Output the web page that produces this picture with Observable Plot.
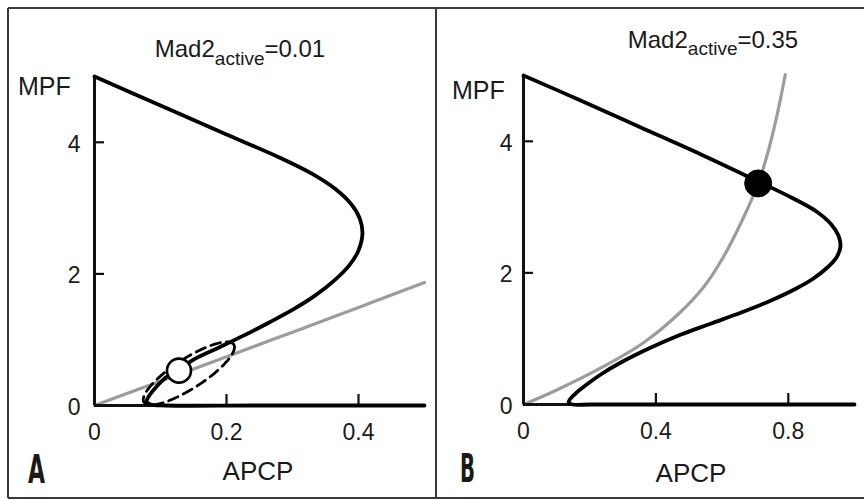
<!DOCTYPE html>
<html>
<head>
<meta charset="utf-8">
<script src="https://cdn.jsdelivr.net/npm/d3@7"></script>
<script src="https://cdn.jsdelivr.net/npm/@observablehq/plot@0.6"></script>
<style>
  html, body { margin: 0; padding: 0; background: #fff; }
  #root { position: relative; width: 864px; height: 500px; overflow: hidden; background: #fff; }
  .panel { position: absolute; top: 0; }
  #deco { position: absolute; left: 0; top: 0; pointer-events: none; }
  #deco text { font-family: "Liberation Sans", Arial, Helvetica, sans-serif; fill: #1a1a1a; }
</style>
</head>
<body>
<div id="root">
  <div id="pA" class="panel" style="left:0px"></div>
  <div id="pB" class="panel" style="left:432px"></div>
  <svg id="deco" width="864" height="500" viewBox="0 0 864 500">
    <g stroke="#3a3a3a" stroke-width="2" fill="none">
      <line x1="8" y1="8" x2="864" y2="8"/>
      <line x1="8" y1="8" x2="8" y2="498"/>
      <line x1="8" y1="498" x2="864" y2="498"/>
      <line x1="436" y1="8" x2="436" y2="498"/>
    </g>
    <text x="240" y="57" text-anchor="middle" font-size="24">Mad2<tspan font-size="19" dy="8">active</tspan><tspan dy="-8">=0.01</tspan></text>
    <text x="713" y="48" text-anchor="middle" font-size="24">Mad2<tspan font-size="19" dy="7">active</tspan><tspan dy="-7">=0.35</tspan></text>
    <text x="18" y="95" font-size="25">MPF</text>
    <text x="452" y="99" font-size="25">MPF</text>
    <text x="258" y="480" text-anchor="middle" font-size="26">APCP</text>
    <text x="691" y="482" text-anchor="middle" font-size="26">APCP</text>
    <text x="28" y="483" font-size="39" font-weight="bold" textLength="17" lengthAdjust="spacingAndGlyphs" style="font-family:'DejaVu Sans Condensed','DejaVu Sans',sans-serif">A</text>
    <text x="460" y="482" font-size="39" font-weight="bold" textLength="15" lengthAdjust="spacingAndGlyphs" style="font-family:'DejaVu Sans Condensed','DejaVu Sans',sans-serif">B</text>
  </svg>
</div>
<script>
// ---- Data ----
// Panel A (Mad2_active = 0.01): black = MPF nullcline (S-shaped), grey = APCP nullcline
const blackA_apcp = [0, 0.1, 0.2, 0.28, 0.33, 0.365, 0.389, 0.402, 0.406, 0.400, 0.386, 0.3635, 0.3346, 0.3011, 0.2646, 0.2266, 0.1886, 0.1506, 0.128, 0.108, 0.0928, 0.0821, 0.079, 0.085, 0.108, 0.25, 0.5];
const blackA_mpf  = [5.0, 4.56, 4.12, 3.77, 3.52, 3.29, 3.06, 2.84, 2.616, 2.357, 2.129, 1.901, 1.673, 1.460, 1.262, 1.065, 0.882, 0.700, 0.545, 0.426, 0.274, 0.137, 0.06, 0.015, 0.0, 0.0, 0.0];
const greyA_apcp  = [0, 0.1, 0.2, 0.3, 0.4, 0.5];
const greyA_mpf   = [0, 0.37, 0.74, 1.115, 1.49, 1.87];
const steadyA     = [0.128, 0.53];         // open circle (unstable steady state)
const ellipseCenterA = [0.143, 0.487];     // dashed ellipse around steady state
const ellipseMajorA  = [0.068, 0.44];
const ellipseMinorA  = [0.0125, -0.19];

// Panel B (Mad2_active = 0.35)
const blackB_apcp = [0, 0.1727, 0.3545, 0.5364, 0.709, 0.809, 0.885, 0.930, 0.9515, 0.9576, 0.9455, 0.918, 0.876, 0.824, 0.748, 0.658, 0.567, 0.476, 0.385, 0.294, 0.2333, 0.1909, 0.1606, 0.1424, 0.1364, 0.1485, 0.203, 0.536, 1.0];
const blackB_mpf  = [5.0, 4.62, 4.21, 3.80, 3.39, 3.146, 2.933, 2.736, 2.568, 2.401, 2.234, 2.082, 1.915, 1.763, 1.581, 1.398, 1.231, 1.064, 0.866, 0.638, 0.456, 0.304, 0.182, 0.091, 0.030, 0.0, 0.0, 0.0, 0.0];
const greyB_apcp  = [0, 0.0909, 0.2424, 0.3636, 0.4697, 0.5455, 0.603, 0.6576, 0.709, 0.7424, 0.7697, 0.7909];
const greyB_mpf   = [0, 0.198, 0.578, 0.942, 1.383, 1.793, 2.234, 2.766, 3.359, 3.906, 4.483, 5.015];
const steadyB     = [0.709, 3.36];         // filled circle (stable steady state)

// Axis ticks
const xTicksA = [0, 0.2, 0.4];
const xTickLabelsA = ["0", "0.2", "0.4"];
const xTicksB = [0, 0.4, 0.8];
const xTickLabelsB = ["0", "0.4", "0.8"];
const yTicks = [0, 2, 4];
const yTickLabels = ["0", "2", "4"];

// ---- Build tables ----
const zip = (xs, ys) => xs.map((x, i) => ({x, y: ys[i]}));
const blackA = zip(blackA_apcp, blackA_mpf);
const greyA = zip(greyA_apcp, greyA_mpf);
const blackB = zip(blackB_apcp, blackB_mpf);
const greyB = zip(greyB_apcp, greyB_mpf);
const ellipseA = d3.range(0, 361, 5).map(deg => {
  const t = deg * Math.PI / 180;
  return {
    x: ellipseCenterA[0] + ellipseMajorA[0] * Math.cos(t) + ellipseMinorA[0] * Math.sin(t),
    y: ellipseCenterA[1] + ellipseMajorA[1] * Math.cos(t) + ellipseMinorA[1] * Math.sin(t)
  };
});

const FONT = "'Liberation Sans', Arial, Helvetica, sans-serif";
const INK = "#111";

function panel({xMax, xTicks, xTickLabels, black, grey, marginLeft, marginRight, marginTop, marginBottom, yLabelDx, extra}) {
  return Plot.plot({
    width: 432,
    height: 500,
    marginLeft, marginRight, marginTop, marginBottom,
    x: {domain: [0, xMax], axis: null},
    y: {domain: [0, 5], axis: null},
    style: {background: "transparent", overflow: "visible", fontFamily: FONT},
    marks: [
      // grey nullcline
      Plot.line(grey, {x: "x", y: "y", curve: "catmull-rom", stroke: "#9c9c9c", strokeWidth: 3.2}),
      // axes lines
      Plot.ruleX([0], {stroke: INK, strokeWidth: 3}),
      Plot.ruleY([0], {stroke: INK, strokeWidth: 3}),
      // inward tick marks
      Plot.ruleX(xTicks.filter(d => d > 0), {x: d => d, y1: 0, y2: 0, insetTop: -11, stroke: INK, strokeWidth: 2.2}),
      Plot.ruleY(yTicks.filter(d => d > 0), {y: d => d, x1: 0, x2: 0, insetRight: -10, stroke: INK, strokeWidth: 2.2}),
      // tick labels
      Plot.text(xTicks, {x: d => d, y: 0, text: (d, i) => xTickLabels[i], dy: 27, fontSize: 23, fill: "#1a1a1a"}),
      Plot.text(yTicks, {x: 0, y: d => d, text: (d, i) => yTickLabels[i], dx: yLabelDx, dy: 2, textAnchor: "end", fontSize: 23, fill: "#1a1a1a"}),
      // black nullcline
      Plot.line(black, {x: "x", y: "y", curve: "catmull-rom", stroke: "#000", strokeWidth: 3.8, strokeLinejoin: "round"}),
      ...extra
    ]
  });
}

const plotA = panel({
  xMax: 0.5, xTicks: xTicksA, xTickLabels: xTickLabelsA, black: blackA, grey: greyA,
  marginLeft: 94, marginRight: 8, marginTop: 76, marginBottom: 95, yLabelDx: -14,
  extra: [
    Plot.line(ellipseA, {x: "x", y: "y", curve: "linear-closed", stroke: "#000", strokeWidth: 2.8, strokeDasharray: "10,6"}),
    Plot.dot([steadyA], {x: d => d[0], y: d => d[1], r: 12, fill: "#fff", stroke: "#000", strokeWidth: 2.6})
  ]
});
document.getElementById("pA").appendChild(plotA);

const plotB = panel({
  xMax: 1.0, xTicks: xTicksB, xTickLabels: xTickLabelsB, black: blackB, grey: greyB,
  marginLeft: 91, marginRight: 10, marginTop: 75, marginBottom: 96, yLabelDx: -11,
  extra: [
    Plot.dot([steadyB], {x: d => d[0], y: d => d[1], r: 13.5, fill: "#000", stroke: "#000", strokeWidth: 1})
  ]
});
document.getElementById("pB").appendChild(plotB);
</script>
</body>
</html>
